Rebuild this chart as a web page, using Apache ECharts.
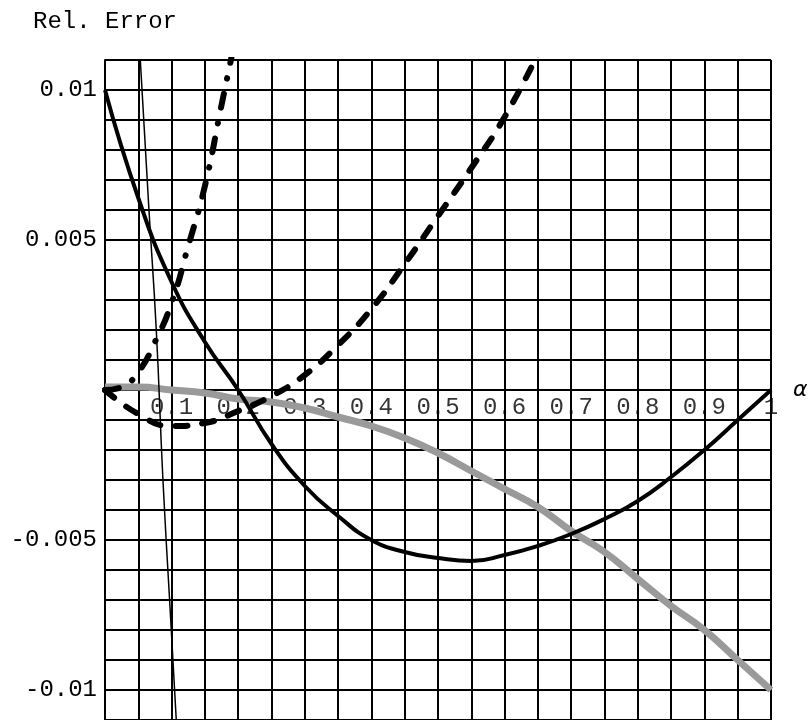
<!DOCTYPE html>
<html>
<head>
<meta charset="utf-8">
<script src="https://cdn.jsdelivr.net/npm/echarts@6/dist/echarts.min.js"></script>
<style>html,body{margin:0;padding:0;background:#fff;}#c{width:812px;height:720px;}</style>
</head>
<body>
<div id="c"></div>
<script>
// Solid thick curve
const solidX = [0,0.05,0.1,0.15,0.2,0.25,0.3,0.35,0.4,0.45,0.5,0.55,0.6,0.65,0.7,0.75,0.8,0.85,0.9,0.95,1];
const solidY = [0.0100,0.0064,0.0036,0.0016,0.0000,-0.0018,-0.0032,-0.0042,-0.0050,-0.0054,-0.0056,-0.0057,-0.0055,-0.0052,-0.0048,-0.0043,-0.0037,-0.0029,-0.0020,-0.0010,0.0000];
// Gray curve
const grayX = [0,0.05,0.1,0.15,0.2,0.25,0.3,0.35,0.4,0.45,0.5,0.55,0.6,0.65,0.7,0.75,0.8,0.85,0.9,0.95,1];
const grayY = [0.0001,0.0001,0.0000,-0.0001,-0.0003,-0.0004,-0.0006,-0.0009,-0.0012,-0.0016,-0.0021,-0.0027,-0.0033,-0.0039,-0.0047,-0.0054,-0.0063,-0.0072,-0.0080,-0.0090,-0.0100];
// Dashed curve
const dashX = [0,0.05,0.1,0.15,0.2,0.25,0.3,0.35,0.4,0.45,0.5,0.55,0.6,0.65];
const dashY = [0.0000,-0.0008,-0.0012,-0.0011,-0.0007,-0.0002,0.0005,0.0015,0.0027,0.0042,0.0058,0.0074,0.0091,0.0112];
// Dash-dot curve
const dashDotX = [0,0.025,0.05,0.075,0.1,0.125,0.15,0.175,0.19];
const dashDotY = [0.0000,0.0001,0.0006,0.0016,0.0029,0.0048,0.0068,0.0095,0.0111];
// Thin steep line
const thinX = [0.053,0.066,0.077,0.087,0.097,0.107];
const thinY = [0.011,0.006,0.002,-0.003,-0.007,-0.011];
// Tick labels
const xTickVals = [0.1,0.2,0.3,0.4,0.5,0.6,0.7,0.8,0.9,1];
const xTickLabels = ['0.1','0.2','0.3','0.4','0.5','0.6','0.7','0.8','0.9','1'];
const yTickVals = [0.01,0.005,-0.005,-0.01];
const yTickLabels = ['0.01','0.005','-0.005','-0.01'];

const pairs = (xs, ys) => xs.map((x, i) => [x, ys[i]]);
const FONT = 'Liberation Mono';

const chart = echarts.init(document.getElementById('c'));
chart.setOption({
  animation: false,
  backgroundColor: '#fff',
  grid: { left: 105, right: 41, top: 60, bottom: 0, containLabel: false, outerBoundsMode: 'none' },
  xAxis: {
    type: 'value', min: 0, max: 1, interval: 0.05,
    name: 'α', nameLocation: 'end', nameGap: 22,
    nameTextStyle: { fontSize: 22, fontStyle: 'italic', fontFamily: 'DejaVu Sans', color: '#000', align: 'left', verticalAlign: 'middle' },
    axisLine: { onZero: true, lineStyle: { color: '#000', width: 2 } },
    axisTick: { show: false },
    splitLine: { show: true, lineStyle: { color: '#000', width: 2 } },
    axisLabel: { show: false }
  },
  yAxis: {
    type: 'value', min: -0.011, max: 0.011, interval: 0.001,
    name: 'Rel. Error', nameLocation: 'end', nameGap: 26,
    nameTextStyle: { fontSize: 24, fontFamily: FONT, color: '#000' },
    axisLine: { show: true, onZero: false, lineStyle: { color: '#000', width: 2 } },
    axisTick: { show: false },
    splitLine: { show: true, lineStyle: { color: '#000', width: 2 } },
    axisLabel: {
      margin: 8, fontFamily: FONT, fontSize: 24, color: '#000',
      formatter: v => { const i = yTickVals.findIndex(t => Math.abs(t - v) < 1e-9); return i >= 0 ? yTickLabels[i] : ''; }
    }
  },
  series: [
    { type: 'line', data: pairs(grayX, grayY), smooth: true, showSymbol: false, clip: true,
      lineStyle: { color: '#9a9a9a', width: 7 } },
    { type: 'line', data: pairs(thinX, thinY), smooth: true, showSymbol: false, clip: true,
      lineStyle: { color: '#000', width: 1.5 } },
    { type: 'line', data: pairs(solidX, solidY), smooth: true, showSymbol: false, clip: true,
      lineStyle: { color: '#000', width: 4 } },
    { type: 'line', data: pairs(dashX, dashY), smooth: true, showSymbol: false, clip: true,
      lineStyle: { color: '#000', width: 6, type: [12, 15], cap: 'round' } },
    { type: 'line', data: pairs(dashDotX, dashDotY), smooth: true, showSymbol: false, clip: true,
      lineStyle: { color: '#000', width: 6, type: [14, 15.5, 0.5, 15.5], cap: 'round' } },
    { type: 'scatter', silent: true, symbolSize: 0, clip: false,
      data: xTickVals.map((v, i) => ({ value: [v, 0], label: { formatter: xTickLabels[i] } })),
      label: { show: true, position: 'bottom', distance: 6, fontFamily: FONT, fontSize: 24, color: '#000' } }
  ]
});
</script>
</body>
</html>
